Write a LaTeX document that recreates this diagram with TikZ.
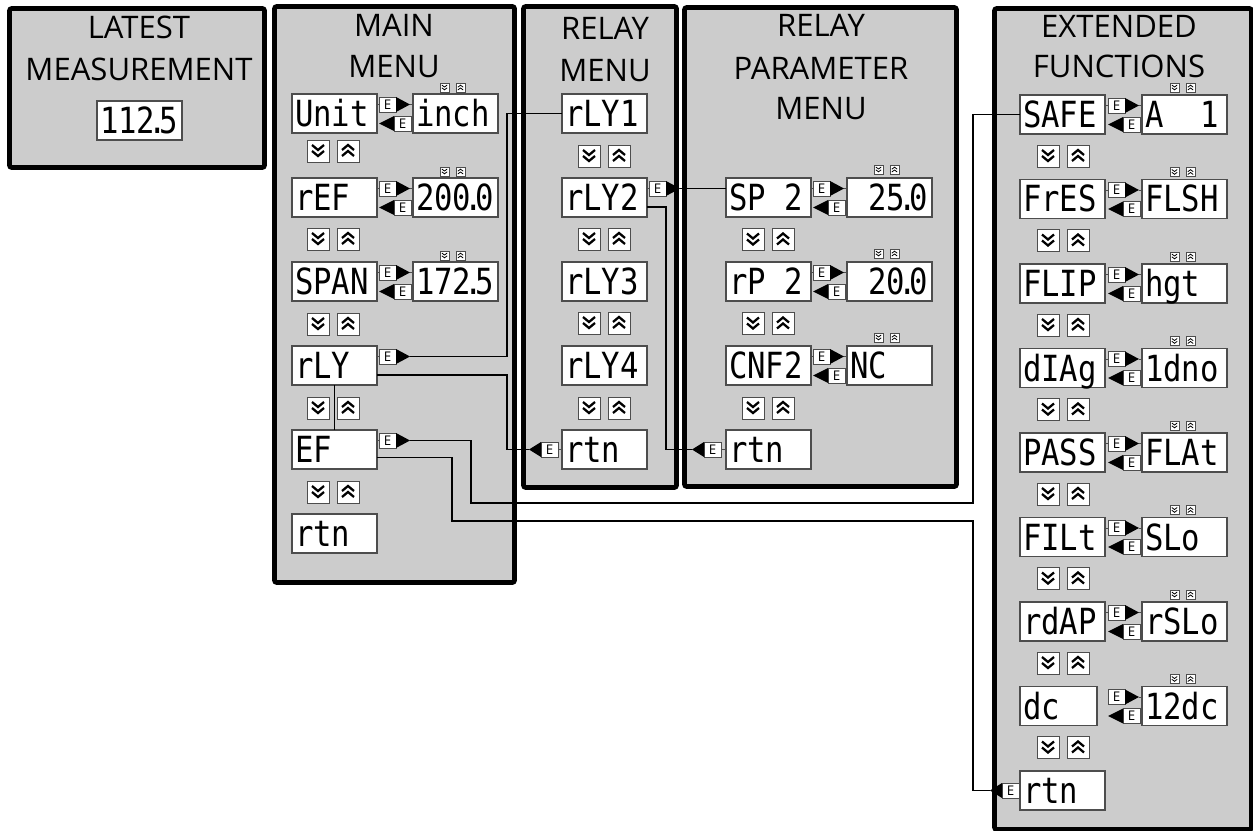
\documentclass[tikz,border=0pt]{standalone}
\usepackage{fontspec}
\usetikzlibrary{calc}
\newfontfamily\headfont{Open Sans}
\newfontfamily\lcdfont[FakeStretch=0.85]{DejaVu Sans Mono}
\definecolor{panelgray}{HTML}{CCCCCC}
\definecolor{dgray}{HTML}{4D4D4D}
\newcommand\dotp{\kern-0.2em.\kern-0.2em}
\newcommand\blank{\phantom{0}}
\tikzset{
  panelbox/.style={draw=black, fill=panelgray, line width=3.4pt, rounded corners=1.5pt, anchor=north west, outer sep=0pt, inner sep=0pt},
  head/.style={font=\headfont\fontsize{23.3}{28}\selectfont, inner sep=0pt, anchor=base},
  disp/.style={draw=dgray, fill=white, line width=0.8pt, anchor=north west, outer sep=0pt,
     text width=59.25pt, align=left, inner xsep=2.25pt, inner ysep=0pt, minimum height=29.25pt,
     text height=19.5pt, text depth=0pt, font=\lcdfont\fontsize{27}{27}\selectfont},
  ebox/.style={draw=dgray, fill=white, line width=0.6pt, minimum width=12.75pt, minimum height=11.25pt,
     inner sep=0pt, outer sep=0pt, font=\headfont\fontsize{10}{10}\selectfont},
  navbtn/.style={draw=dgray, fill=white, line width=0.7pt, minimum width=16.5pt, minimum height=16.5pt, inner sep=0pt, outer sep=0pt, anchor=north west},
  navsm/.style={draw=dgray, fill=white, line width=0.5pt, minimum width=6.75pt, minimum height=6.75pt, inner sep=0pt, outer sep=0pt, anchor=north west},
  chevb/.style={line width=1.7pt, draw=black},
  chevs/.style={line width=0.6pt, draw=black},
  conn/.style={line width=0.85pt, draw=black},
  tick/.style={line width=0.6pt, draw=dgray},
}
% big navigation buttons: name, x, y
\newcommand\navbig[3]{%
  \node[navbtn] (#1d) at (#2,#3) {};
  \node[navbtn] (#1u) at ($(#2,#3)+(30,0)$) {};
  \draw[chevb] ($(#1d.center)+(-6,-6)$) -- ++(6,5) -- ++(6,-5) ($(#1d.center)+(-6,0)$) -- ++(6,5) -- ++(6,-5);
  \draw[chevb] ($(#1u.center)+(-6,5)$) -- ++(6,-5) -- ++(6,5) ($(#1u.center)+(-6,-1)$) -- ++(6,-5) -- ++(6,5);
}
% small navigation icons: name, x, y
\newcommand\navsmall[3]{%
  \node[navsm] (#1d) at (#2,#3) {};
  \node[navsm] (#1u) at ($(#2,#3)+(16,0)$) {};
  \draw[chevs] ($(#1d.center)+(-2.7,-2.5)$) -- ++(2.7,2) -- ++(2.7,-2) ($(#1d.center)+(-2.7,0.3)$) -- ++(2.7,2) -- ++(2.7,-2);
  \draw[chevs] ($(#1u.center)+(-2.7,2.5)$) -- ++(2.7,-2) -- ++(2.7,2) ($(#1u.center)+(-2.7,-0.3)$) -- ++(2.7,-2) -- ++(2.7,2);
}
% E arrow pair between a parameter and its value: name, source, target
\newcommand\Ecore[3]{%
  \node[ebox, anchor=east] (#1a) at ($(#3.north west)+(-17,10.5)$) {E};
  \fill ($(#1a.east)+(0,-7.5)$) -- ($(#1a.east)+(14,0)$) -- ($(#1a.east)+(0,7.5)$) -- cycle;
  \draw[tick] ($(#1a.east)+(14,0)$) -- (#3.west |- #1a.east);
  \node[ebox, anchor=east] (#1b) at ($(#3.north west)+(-2,29.5)$) {E};
  \fill ($(#1b.west)+(0,-7.5)$) -- ($(#1b.west)+(-15,0)$) -- ($(#1b.west)+(0,7.5)$) -- cycle;
  \draw[tick] (#1b.east) -- (#3.west |- #1b.east);
}
\newcommand\Epair[3]{%
  \Ecore{#1}{#2}{#3}%
  \draw[tick] (#2.east |- #1a.west) -- (#1a.west);
}
% single outgoing E arrow: name, source, dy
\newcommand\Eout[3]{%
  \node[ebox, anchor=west] (#1) at ($(#2.north east)+(2,#3)$) {E};
  \draw[tick] (#2.east |- #1.west) -- (#1.west);
  \fill ($(#1.east)+(0,-7.5)$) -- ($(#1.east)+(14,0)$) -- ($(#1.east)+(0,7.5)$) -- cycle;
  \coordinate (#1t) at ($(#1.east)+(14,0)$);
}
% incoming E arrow into a rtn box: name, target, gap
\newcommand\Ein[3]{%
  \node[ebox, anchor=east] (#1) at ($(#2.west)+(-#3,0)$) {E};
  \draw[tick] (#1.east) -- (#2.west);
  \fill ($(#1.west)+(0,-7.5)$) -- ($(#1.west)+(-12,0)$) -- ($(#1.west)+(0,7.5)$) -- cycle;
  \coordinate (#1t) at ($(#1.west)+(-12,0)$);
}
\begin{document}
\begin{tikzpicture}[x=0.75pt,y=-0.75pt]
\useasboundingbox (0,0) rectangle (1253,831);
\fill[white] (0,0) rectangle (1253,831);

% panels
\node[panelbox, minimum width=191.25pt, minimum height=119.25pt] (pLatest) at (9.5,8.5) {};
\node[panelbox, minimum width=180pt, minimum height=432pt] (pMain) at (274.5,6.5) {};
\node[panelbox, minimum width=114.75pt, minimum height=360.75pt] (pRelay) at (523.5,6.5) {};
\node[panelbox, minimum width=204pt, minimum height=359.25pt] (pParam) at (684.5,7.5) {};
\node[panelbox, minimum width=192.75pt, minimum height=615.75pt] (pExt) at (994.5,8.5) {};

% headings
\node[head] (hL1) at (139,39) {LATEST};
\node[head] (hL2) at (139,81) {MEASUREMENT};
\node[head] (hM1) at (394,37) {MAIN};
\node[head] (hM2) at (394,78) {MENU};
\node[head] (hR1) at (605,40) {RELAY};
\node[head] (hR2) at (605,82) {MENU};
\node[head] (hP1) at (821,37) {RELAY};
\node[head] (hP2) at (821,80) {PARAMETER};
\node[head] (hP3) at (821,120) {MENU};
\node[head] (hE1) at (1119,38) {EXTENDED};
\node[head] (hE2) at (1119,78) {FUNCTIONS};

% latest measurement
\node[disp] (lat) at (97,101) {112\dotp5};

% main menu
\node[disp] (unit) at (292,94) {Unit};
\node[disp] (inch) at (413,94) {inch};
\node[disp] (ref) at (292,178) {rEF};
\node[disp] (refv) at (413,178) {200\dotp0};
\node[disp] (span) at (292,262) {SPAN};
\node[disp] (spanv) at (413,262) {172\dotp5};
\node[disp] (mrly) at (292,346) {rLY};
\node[disp] (mef) at (292,430) {EF};
\node[disp] (mrtn) at (292,514) {rtn};
\Epair{eU}{unit}{inch}
\Epair{eR}{ref}{refv}
\Epair{eS}{span}{spanv}
\Eout{mrlyE}{mrly}{10.5}
\Eout{mefE}{mef}{10.5}
\navsmall{ms1}{440}{83}
\navsmall{ms2}{440}{167}
\navsmall{ms3}{440}{251}
\navbig{mn1}{307}{140}
\navbig{mn2}{307}{228}
\navbig{mn3}{307}{313}
\navbig{mn4}{307}{397}
\navbig{mn5}{307}{481}

% relay menu
\node[disp] (rly1) at (562,94) {rLY1};
\node[disp] (rly2) at (562,178) {rLY2};
\node[disp] (rly3) at (562,262) {rLY3};
\node[disp] (rly4) at (562,346) {rLY4};
\node[disp] (rrtn) at (562,430) {rtn};
\Eout{rly2E}{rly2}{10.5}
\Ein{rrtnE}{rrtn}{4}
\navbig{rn1}{578}{145}
\navbig{rn2}{578}{228}
\navbig{rn3}{578}{312}
\navbig{rn4}{578}{397}

% relay parameter menu
\node[disp] (sp2) at (726,178) {SP\blank2};
\node[disp] (sp2v) at (847,178) {\blank25\dotp0};
\node[disp] (rp2) at (726,262) {rP\blank2};
\node[disp] (rp2v) at (847,262) {\blank20\dotp0};
\node[disp] (cnf) at (726,346) {CNF2};
\node[disp] (cnfv) at (847,346) {NC};
\node[disp] (prtn) at (726,430) {rtn};
\Epair{eP1}{sp2}{sp2v}
\Epair{eP2}{rp2}{rp2v}
\Epair{eP3}{cnf}{cnfv}
\Ein{prtnE}{prtn}{5}
\navsmall{ps1}{874}{165}
\navsmall{ps2}{874}{249}
\navsmall{ps3}{874}{333}
\navbig{pn1}{742}{228.5}
\navbig{pn2}{742}{312.5}
\navbig{pn3}{742}{397}

% extended functions
\node[disp] (safe) at (1020,95) {SAFE};
\node[disp] (safev) at (1142,95) {A\blank\blank1};
\node[disp] (fres) at (1020,179.5) {FrES};
\node[disp] (fresv) at (1142,179.5) {FLSH};
\node[disp] (flip) at (1020,264) {FLIP};
\node[disp] (flipv) at (1142,264) {hgt};
\node[disp] (diag) at (1020,348.5) {dIAg};
\node[disp] (diagv) at (1142,348.5) {1dno};
\node[disp] (pass) at (1020,433) {PASS};
\node[disp] (passv) at (1142,433) {FLAt};
\node[disp] (filt) at (1020,517.5) {FILt};
\node[disp] (filtv) at (1142,517.5) {SLo};
\node[disp] (rdap) at (1020,602) {rdAP};
\node[disp] (rdapv) at (1142,602) {rSLo};
\node[disp, text width=53.25pt] (dc) at (1020,686.5) {dc};
\node[disp] (dcv) at (1142,686.5) {12dc};
\node[disp] (ertn) at (1020,771) {rtn};
\Epair{eE1}{safe}{safev}
\Epair{eE2}{fres}{fresv}
\Epair{eE3}{flip}{flipv}
\Epair{eE4}{diag}{diagv}
\Epair{eE5}{pass}{passv}
\Epair{eE6}{filt}{filtv}
\Epair{eE7}{rdap}{rdapv}
\Ecore{eE8}{dc}{dcv}
\Ein{ertnE}{ertn}{1}
\foreach \i in {0,...,7} {
  \navsmall{es\i}{1170}{95+84.5*\i-12}
  \navbig{en\i}{1037}{95+84.5*\i+50}
}

% connectors
\coordinate (xa) at (507,0);
\coordinate (xb) at (666,0);
\coordinate (xc) at (471,0);
\coordinate (xd) at (452,0);
\coordinate (xe) at (973,0);
\coordinate (ya) at (0,503);
\coordinate (yb) at (0,521);
\coordinate (mrlyo) at ($(mrly.north east)+(0,29)$);
\coordinate (rly2o) at ($(rly2.north east)+(0,29)$);
\coordinate (mefo) at ($(mef.north east)+(0,27.5)$);
\draw[conn] (mrlyEt) -- (mrlyEt -| xa) |- (rly1.west);
\draw[conn] (mrlyo) -- (mrlyo -| xa) |- (rrtnEt);
\draw[conn] (rly2Et) -- (sp2.west |- rly2Et);
\draw[conn] (rly2o) -- (rly2o -| xb) |- (prtnEt);
\draw[conn] (mefEt) -- (mefEt -| xc) -- (xc |- ya) -- (xe |- ya) |- (safe.west);
\draw[conn] (mefo) -- (mefo -| xd) -- (xd |- yb) -- (xe |- yb) |- (ertnEt);
\draw[conn] (mrly.south) -- (mef.north);
\end{tikzpicture}
\end{document}
